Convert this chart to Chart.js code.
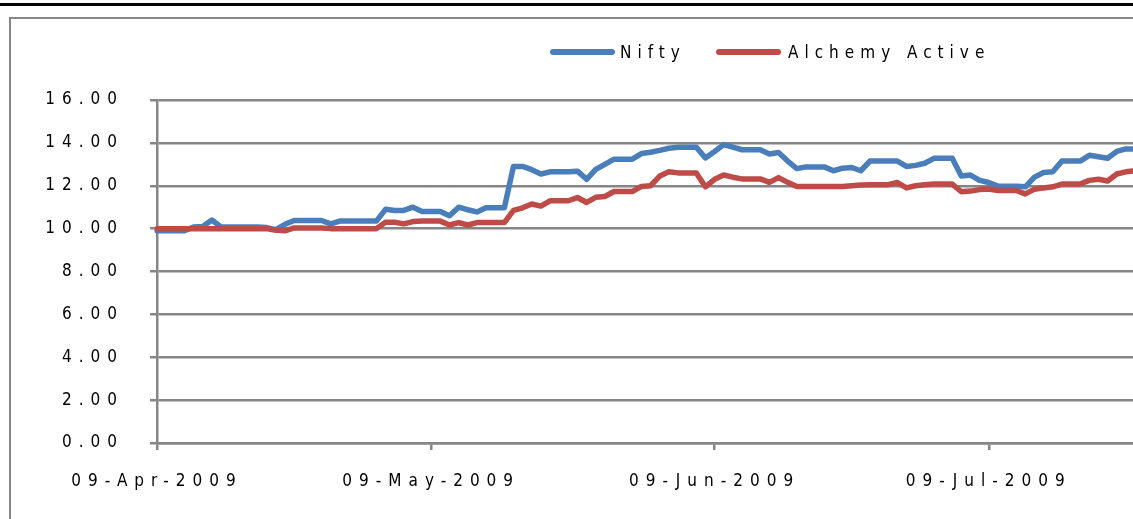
<!DOCTYPE html>
<html>
<head>
<meta charset="utf-8">
<script src="https://cdn.jsdelivr.net/npm/chart.js@4.4.0/dist/chart.umd.min.js"></script>
<style>
  html, body { margin: 0; padding: 0; background: #fff; overflow: hidden; width: 1133px; height: 519px; }
  #topRule { position: absolute; left: 0; top: 3px; width: 1133px; height: 3px; background: #000; }
  #frame { position: absolute; left: 9px; top: 17px; width: 1300px; height: 700px; border: 2px solid #868686; box-sizing: border-box; }
  #wrap { position: absolute; left: 0; top: 0; width: 1160px; height: 519px; }
  .lg { position: absolute; font: 17px 'Liberation Sans Narrow', 'DejaVu Sans Condensed', sans-serif; letter-spacing: 6px; color: #000; line-height: 20px; }
  .sw { position: absolute; height: 6px; width: 65px; border-radius: 3px; }
</style>
</head>
<body>
<div id="topRule"></div>
<div id="frame"></div>
<div id="wrap"><canvas id="chart" width="1160" height="519"></canvas></div>
<div class="sw" style="left:550px; top:49px; background:#4A7EBB"></div>
<div class="lg" style="left:620px; top:42px">Nifty</div>
<div class="sw" style="left:716px; top:49px; background:#BE4B48"></div>
<div class="lg" style="left:788px; top:42px">Alchemy Active</div>
<script>
// daily values from 09-Apr-2009 (weekends / holidays carry the last value)
const startDate = [2009, 3, 9];
const tickLabels = ['09-Apr-2009', '09-May-2009', '09-Jun-2009', '09-Jul-2009'];
const yTicks = [0, 2, 4, 6, 8, 10, 12, 14, 16];

const nifty = [
  9.9, 9.9, 9.9, 9.9, 10.08, 10.1, 10.4, 10.08, 10.08, 10.08,
  10.08, 10.08, 10.05, 9.95, 10.2, 10.38, 10.38, 10.38, 10.38, 10.22,
  10.35, 10.35, 10.35, 10.35, 10.35, 10.9, 10.85, 10.85, 11.0, 10.8,
  10.8, 10.8, 10.6, 11.0, 10.88, 10.78, 10.97, 10.97, 10.97, 12.9,
  12.9, 12.75, 12.55, 12.65, 12.65, 12.65, 12.68, 12.3, 12.76, 13.0,
  13.24, 13.24, 13.24, 13.5, 13.56, 13.65, 13.75, 13.8, 13.8, 13.8,
  13.3, 13.6, 13.92, 13.8, 13.68, 13.68, 13.68, 13.48, 13.55, 13.15,
  12.8, 12.88, 12.88, 12.88, 12.7, 12.82, 12.85, 12.7, 13.15, 13.15,
  13.15, 13.15, 12.9, 12.95, 13.05, 13.28, 13.28, 13.28, 12.45, 12.5,
  12.25, 12.15, 11.98, 11.98, 11.98, 11.95, 12.4, 12.62, 12.65, 13.15,
  13.15, 13.15, 13.42, 13.35, 13.28, 13.6, 13.72, 13.72
];

const alchemy = [
  10, 10, 10, 10, 10, 10, 10, 10, 10, 10,
  10, 10, 10, 9.92, 9.9, 10.03, 10.03, 10.03, 10.03, 10.0,
  10, 10, 10, 10, 10, 10.3, 10.3, 10.22, 10.33, 10.35,
  10.35, 10.35, 10.17, 10.28, 10.17, 10.28, 10.28, 10.28, 10.28, 10.85,
  10.97, 11.15, 11.05, 11.3, 11.3, 11.3, 11.45, 11.22, 11.46, 11.5,
  11.73, 11.73, 11.73, 11.97, 12.0, 12.45, 12.65, 12.6, 12.6, 12.6,
  11.95, 12.3, 12.5, 12.4, 12.32, 12.32, 12.32, 12.16, 12.38, 12.16,
  11.97, 11.97, 11.97, 11.97, 11.97, 11.97, 12.0, 12.03, 12.05, 12.05,
  12.05, 12.15, 11.9, 12.0, 12.05, 12.08, 12.08, 12.08, 11.72, 11.75,
  11.82, 11.85, 11.78, 11.78, 11.78, 11.62, 11.84, 11.9, 11.95, 12.08,
  12.08, 12.08, 12.25, 12.3, 12.22, 12.55, 12.65, 12.7
];

const months = ['Jan','Feb','Mar','Apr','May','Jun','Jul','Aug','Sep','Oct','Nov','Dec'];
const labels = nifty.map((_, i) => {
  const d = new Date(startDate[0], startDate[1], startDate[2] + i);
  return String(d.getDate()).padStart(2, '0') + '-' + months[d.getMonth()] + '-' + d.getFullYear();
});

const gridGray = '#868686';
const fontFamily = "'Liberation Sans Narrow', 'DejaVu Sans Condensed', sans-serif";

// canvas letter spacing, so the tick labels are spread out like the original
const spacing = {
  id: 'spacing',
  beforeLayout(chart) { chart.ctx.letterSpacing = '7px'; },
  beforeDraw(chart) { chart.ctx.letterSpacing = '7px'; }
};

new Chart(document.getElementById('chart').getContext('2d'), {
  type: 'line',
  data: {
    labels: labels,
    datasets: [
      { label: 'Nifty', data: nifty, borderColor: '#4A7EBB', backgroundColor: '#4A7EBB', order: 1 },
      { label: 'Alchemy Active', data: alchemy, borderColor: '#BE4B48', backgroundColor: '#BE4B48', order: 0 }
    ]
  },
  options: {
    responsive: false,
    animation: false,
    layout: { padding: { top: 100, right: 25, left: 0, bottom: 0 } },
    elements: {
      point: { radius: 0, hoverRadius: 0 },
      line: { borderWidth: 5.5, tension: 0, borderJoinStyle: 'round', borderCapStyle: 'round' }
    },
    plugins: { legend: { display: false }, tooltip: { enabled: false } },
    scales: {
      x: {
        offset: false,
        grid: { drawOnChartArea: false, drawTicks: true, tickLength: 7, color: gridGray, lineWidth: 2.5 },
        border: { color: gridGray, width: 2.5 },
        afterBuildTicks: (scale) => {
          scale.ticks = tickLabels.map(t => ({ value: labels.indexOf(t) }));
        },
        ticks: {
          autoSkip: false,
          maxRotation: 0,
          padding: 21,
          color: '#000',
          font: { family: fontFamily, size: 17 },
          callback: (v) => labels[v]
        },
        afterFit: (scale) => { scale.height = 76; }
      },
      y: {
        min: 0,
        max: 16,
        afterBuildTicks: (scale) => {
          scale.ticks = yTicks.map(v => ({ value: v }));
        },
        grid: { color: gridGray, lineWidth: 2.5, tickLength: 7 },
        border: { color: gridGray, width: 2.5 },
        ticks: {
          padding: 26,
          color: '#000',
          font: { family: fontFamily, size: 17 },
          callback: (v) => Number(v).toFixed(2)
        },
        afterFit: (scale) => { scale.width = 157; }
      }
    }
  },
  plugins: [spacing]
});
</script>
</body>
</html>
